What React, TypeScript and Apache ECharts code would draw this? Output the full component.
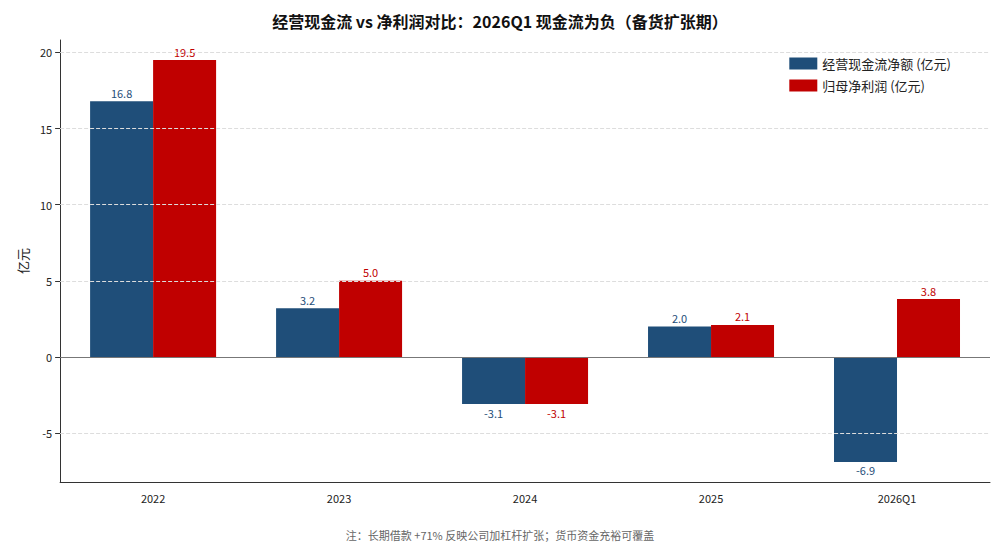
import React, { useEffect, useRef } from 'react';
import * as echarts from 'echarts';

const categories = ['2022', '2023', '2024', '2025', '2026Q1'];
const cashFlow = [16.8, 3.2, -3.1, 2.0, -6.9];
const netProfit = [19.5, 5.0, -3.1, 2.1, 3.8];
const yTicks = [-5, 0, 5, 10, 15, 20];

const FONT = '"Noto Sans CJK SC", "Noto Sans", sans-serif';

const labelCfg = (color: string) => ({
  show: true,
  color,
  fontSize: 11,
  fontFamily: FONT,
  distance: 3,
  formatter: (p: any) => p.value.toFixed(1),
});

const App: React.FC = () => {
  const chartRef = useRef<HTMLDivElement>(null);

  useEffect(() => {
    if (!chartRef.current) return;
    const chart = echarts.init(chartRef.current, undefined, { renderer: 'svg' });

    const mkData = (arr: number[]) =>
      arr.map((v) => ({ value: v, label: { position: v < 0 ? 'bottom' : 'top' } }));

    chart.setOption({
      animation: false,
      textStyle: { fontFamily: FONT },
      title: {
        text: '经营现金流 vs 净利润对比：2026Q1 现金流为负（备货扩张期）',
        left: 'center',
        top: 0,
        textStyle: { fontSize: 16, fontWeight: 'bold', color: '#111', fontFamily: FONT },
      },
      legend: {
        orient: 'vertical',
        right: 36,
        top: 44,
        icon: 'rect',
        itemWidth: 28,
        itemHeight: 12,
        itemGap: 9,
        textStyle: { fontSize: 13, color: '#222', fontFamily: FONT },
        data: ['经营现金流净额 (亿元)', '归母净利润 (亿元)'],
      },
      grid: { left: 48, right: 2, top: 32, bottom: 64 },
      xAxis: {
        type: 'category',
        data: categories,
        axisLine: { show: true, onZero: false, lineStyle: { color: '#333' } },
        axisTick: { alignWithLabel: true, lineStyle: { color: '#333' } },
        axisLabel: { color: '#222', fontSize: 11, margin: 10 },
      },
      yAxis: {
        type: 'value',
        min: -8.22,
        max: 20.82,
        name: '亿元',
        nameLocation: 'middle',
        nameGap: 30,
        nameTextStyle: { fontSize: 13, color: '#222' },
        axisLine: { show: true, onZero: false, lineStyle: { color: '#333' } },
        axisTick: { show: true, customValues: yTicks, lineStyle: { color: '#333' } },
        axisLabel: { customValues: yTicks, color: '#222', fontSize: 11 },
        splitLine: { show: false },
      },
      graphic: [
        {
          type: 'text',
          left: 'center',
          top: 521,
          style: {
            text: '注：长期借款 +71% 反映公司加杠杆扩张；货币资金充裕可覆盖',
            fill: '#666',
            fontSize: 11,
            fontFamily: FONT,
          },
        },
      ],
      series: [
        {
          name: 'grid',
          type: 'line',
          data: [],
          z: 1,
          markLine: {
            silent: true,
            symbol: 'none',
            label: { show: false },
            data: yTicks
              .filter((v) => v !== 0)
              .map((v) => ({ yAxis: v, lineStyle: { type: 'dashed', color: '#ddd', width: 1 } })),
          },
        },
        {
          name: '经营现金流净额 (亿元)',
          type: 'bar',
          barWidth: 63,
          barGap: '0%',
          z: 2,
          itemStyle: { color: '#1f4e79' },
          label: labelCfg('#1f4e79'),
          data: mkData(cashFlow),
        },
        {
          name: '归母净利润 (亿元)',
          type: 'bar',
          barWidth: 63,
          z: 2,
          itemStyle: { color: '#c00000' },
          label: labelCfg('#c00000'),
          data: mkData(netProfit),
          markLine: {
            silent: true,
            symbol: 'none',
            label: { show: false },
            data: [{ yAxis: 0, lineStyle: { type: 'solid', color: '#777', width: 1 } }],
          },
        },
      ],
    });

    return () => chart.dispose();
  }, []);

  return <div ref={chartRef} style={{ width: 984, height: 538 }} />;
};

export default App;
